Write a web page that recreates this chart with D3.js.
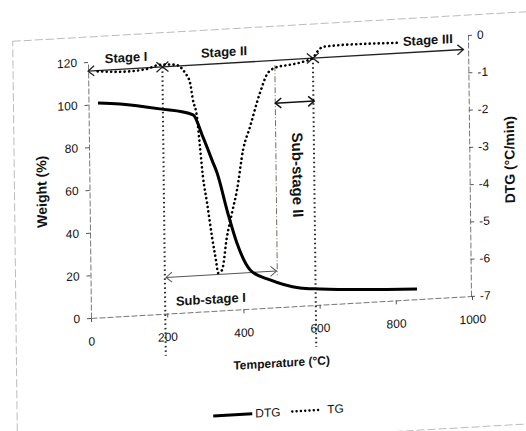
<!DOCTYPE html>
<meta charset="utf-8">
<style>
body { margin: 0; background: #fff; }
svg { display: block; }
.chart text { font-family: "Liberation Sans", Arial, sans-serif; fill: #111; }
.tick text { font-size: 12px; }
.tick line { stroke: #555; }
.domain { stroke: #777; stroke-dasharray: 6,2; }
.title { font-size: 13px; font-weight: bold; }
.stage { font-size: 13px; font-weight: bold; }
</style>
<script src="https://d3js.org/d3.v7.min.js"></script>
<svg class="chart" width="526" height="431"></svg>
<script>
// weight curve (legend calls it DTG)
var weightTemps = [25, 83, 187, 274, 299, 325, 335, 362, 385, 419, 471, 549, 602, 856];
var weightVals = [100.5, 99.5, 96.1, 92.4, 81.8, 69.4, 64.6, 45.5, 31.2, 18.2, 13, 8.4, 7.4, 4.8];

// derivative curve (legend calls it TG), right axis
var dtgTemps = [25, 100, 150, 189, 228, 254, 267, 274, 284, 291, 298, 308, 320, 332, 334, 345, 359, 373, 387, 404, 423, 450, 472, 496, 530, 564, 590, 601, 617, 669, 819];
var dtgVals = [-0.4, -0.45, -0.42, -0.32, -0.34, -0.57, -0.85, -1.31, -1.77, -2.58, -3.39, -4.1, -5.02, -5.83, -5.99, -5.92, -5.04, -4.4, -3.79, -2.73, -2.12, -1.23, -0.7, -0.56, -0.52, -0.46, -0.37, -0.22, -0.09, -0.07, -0.1];

var xTicks = [0, 200, 400, 600, 800, 1000];
var weightTicks = [0, 20, 40, 60, 80, 100, 120];
var dtgTicks = [0, -1, -2, -3, -4, -5, -6, -7];

var stageNames = ["Stage I", "Stage II", "Stage III"];
var stageBounds = [0, 195, 590, 985];
var subStageBound = 490;

var svg = d3.select("svg");
svg.append("rect").attr("width", 526).attr("height", 431).attr("fill", "#fff");

// the source is a photo, slightly skewed: tilt everything round the plot origin
var g = svg.append("g")
    .attr("transform", "translate(91,318) matrix(1,-0.0577,0.0117,1,0,0) translate(-91,-318)");

var x = d3.scaleLinear().domain([0, 1000]).range([91, 472]);
var yL = d3.scaleLinear().domain([0, 120]).range([318, 62]);
var yR = d3.scaleLinear().domain([-7, 0]).range([318, 57]);

// faint outer frame
g.append("rect")
    .attr("x", 16).attr("y", 37).attr("width", 520).attr("height", 412)
    .attr("fill", "none").attr("stroke", "#bbb").attr("stroke-dasharray", "8,3");

g.append("g").attr("transform", "translate(0,318)")
    .call(d3.axisBottom(x).tickValues(xTicks).tickFormat(d3.format("d"))
        .tickSize(4).tickSizeOuter(0).tickPadding(15));
g.append("g").attr("transform", "translate(91,0)")
    .call(d3.axisLeft(yL).tickValues(weightTicks).tickSize(4).tickSizeOuter(0).tickPadding(7));
g.append("g").attr("transform", "translate(471,0)")
    .call(d3.axisRight(yR).tickValues(dtgTicks).tickSize(4).tickSizeOuter(0).tickPadding(5)
        .tickFormat(function(d) { return d === 0 ? "0" : "-" + Math.abs(d); }));
g.selectAll(".domain").attr("stroke", "#777");

// axis titles
g.append("text").attr("class", "title").attr("x", 281).attr("y", 378)
    .attr("text-anchor", "middle").style("font-size", "12px").text("Temperature (°C)");
g.append("text").attr("class", "title").attr("transform", "translate(48,189) rotate(-90)")
    .attr("text-anchor", "middle").style("font-size", "14px").text("Weight (%)");
g.append("text").attr("class", "title").attr("transform", "translate(516,184) rotate(-90)")
    .attr("text-anchor", "middle").style("font-size", "14px").text("DTG (°C/min)");

function arrow(t1, t2, yPos, color, width) {
    var x1 = x(t1), x2 = x(t2);
    var a = g.append("g").attr("fill", "none").attr("stroke", color).attr("stroke-width", width);
    a.append("line").attr("x1", x1).attr("x2", x2).attr("y1", yPos).attr("y2", yPos);
    a.append("polyline").attr("points", [[x1 + 6, yPos - 5], [x1, yPos], [x1 + 6, yPos + 5]].join(" "));
    a.append("polyline").attr("points", [[x2 - 6, yPos - 5], [x2, yPos], [x2 - 6, yPos + 5]].join(" "));
}

// stage boundaries (dotted verticals) and stage arrows
var stageY = yR(-0.38);
[stageBounds[1], stageBounds[2]].forEach(function(t) {
    g.append("line").attr("x1", x(t)).attr("x2", x(t)).attr("y1", stageY).attr("y2", yL(0) + 42)
        .attr("stroke", "#222").attr("stroke-width", 2)
        .attr("stroke-dasharray", "1.5,3");
});
for (var i = 0; i < stageNames.length; i++) {
    arrow(stageBounds[i], stageBounds[i + 1], stageY, "#222", 1.3);
}
var stageLabelT = [100, 357, 892];
stageNames.forEach(function(name, i) {
    g.append("text").attr("class", "stage").attr("x", x(stageLabelT[i])).attr("y", stageY - 7)
        .attr("text-anchor", "middle").text(name);
});

// sub-stages
g.append("line").attr("x1", x(subStageBound)).attr("x2", x(subStageBound))
    .attr("y1", yL(113.4)).attr("y2", yL(15))
    .attr("stroke", "#7a6a60").attr("stroke-width", 1).attr("stroke-dasharray", "6,2,1,2");
arrow(198, 488, yL(17), "#555", 1);
arrow(subStageBound, 592, yL(95.6), "#111", 1.5);
g.append("text").attr("class", "stage").attr("x", x(315)).attr("y", yL(17) + 29)
    .attr("text-anchor", "middle").text("Sub-stage I");
g.append("text").attr("class", "stage").style("font-size", "15px")
    .attr("transform", "translate(" + (x(546) - 5) + "," + yL(61.4) + ") rotate(90)")
    .attr("text-anchor", "middle").text("Sub-stage II");

// curves
var weightLine = d3.line()
    .x(function(d, i) { return x(weightTemps[i]); })
    .y(function(d) { return yL(d); })
    .curve(d3.curveMonotoneX);
g.append("path").datum(weightVals).attr("d", weightLine)
    .attr("fill", "none").attr("stroke", "#000").attr("stroke-width", 3);

var dtgLine = d3.line()
    .x(function(d, i) { return x(dtgTemps[i]); })
    .y(function(d) { return yR(d); })
    .curve(d3.curveMonotoneX);
g.append("path").datum(dtgVals).attr("d", dtgLine)
    .attr("fill", "none").attr("stroke", "#000").attr("stroke-width", 2.6)
    .attr("stroke-linecap", "round").attr("stroke-dasharray", "0.1,4.4");

// legend
var legend = g.append("g").attr("transform", "translate(212,423)");
legend.append("line").attr("x1", 0).attr("x2", 39).attr("stroke", "#000").attr("stroke-width", 3);
legend.append("text").attr("x", 42).attr("y", 4).style("font-size", "12px").text("DTG");
legend.append("line").attr("x1", 79).attr("x2", 108).attr("stroke", "#000").attr("stroke-width", 2.4)
    .attr("stroke-linecap", "round").attr("stroke-dasharray", "0.1,4.2");
legend.append("text").attr("x", 114).attr("y", 4).style("font-size", "12px").text("TG");
</script>
